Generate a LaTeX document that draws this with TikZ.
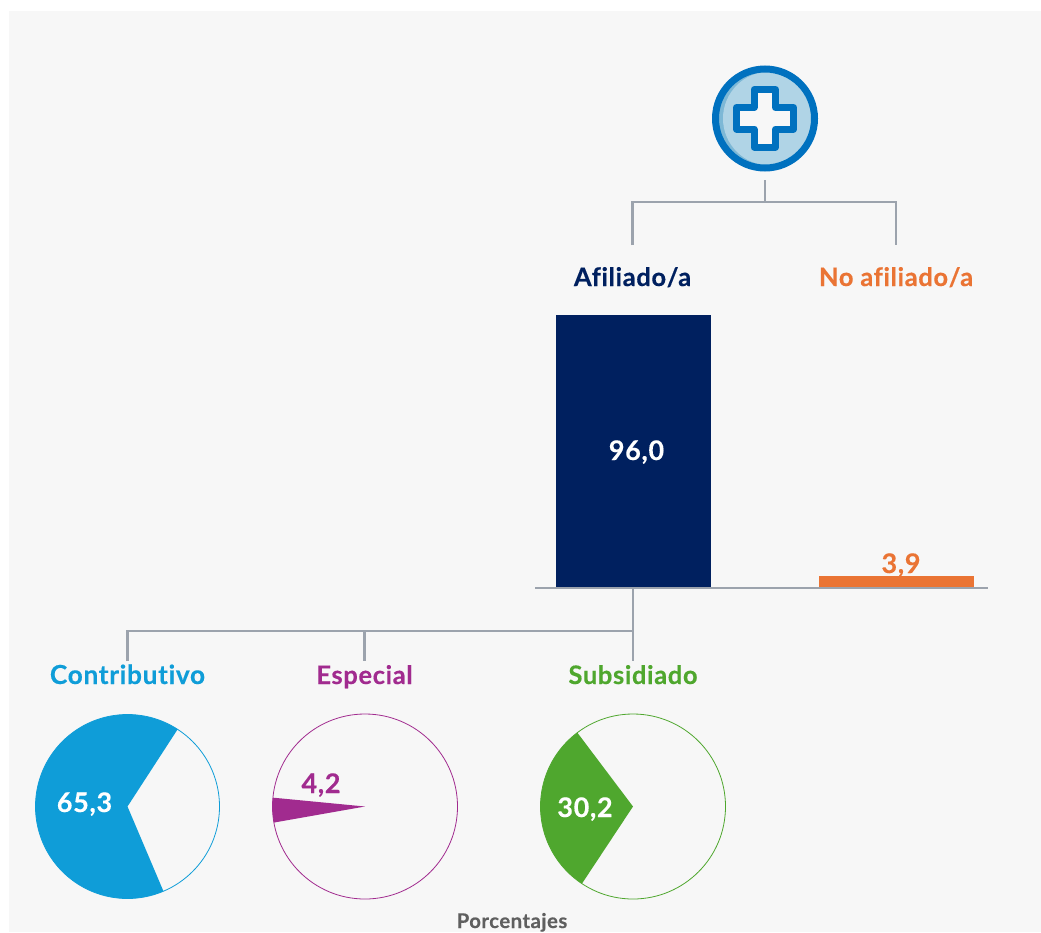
\documentclass[tikz,border=0pt]{standalone}
\usepackage{fontspec}
\setmainfont[Ligatures=NoCommon,BoldFeatures={FakeBold=0.35,LetterSpace=2.5}]{Lato}
\definecolor{bgc}{HTML}{F7F7F7}
\definecolor{linec}{HTML}{9CA3AD}
\definecolor{navyc}{HTML}{00205F}
\definecolor{orangec}{HTML}{EA7434}
\definecolor{bluec}{HTML}{0F9DD8}
\definecolor{purplec}{HTML}{A12B8F}
\definecolor{greenc}{HTML}{4FA72E}
\definecolor{iconc}{HTML}{0071BF}
\definecolor{iconl}{HTML}{B0D4E6}
\definecolor{icond}{HTML}{7DB8D6}
\definecolor{greyt}{HTML}{5F5F5F}
\tikzset{
  conn/.style={draw=linec,line width=2.2pt},
  lab/.style={font=\fontsize{25.5}{28}\selectfont\bfseries,inner sep=0pt,anchor=base},
  val/.style={font=\fontsize{27}{30}\selectfont\bfseries,inner sep=0pt,anchor=base,text=white},
}
\begin{document}
\begin{tikzpicture}[x=1pt,y=1pt,yscale=-1]
\useasboundingbox (0,0) rectangle (1041,932);
\fill[white] (0,0) rectangle (1041,932);
\fill[bgc] (9,11) rectangle (1041,932);
% icon
\fill[icond] (765,118.5) circle[radius=50pt];
\fill[iconl] (770,118.5) circle[radius=47pt];
\draw[white,line width=1.2pt] (770,118.5) ++(-70:46pt) arc[start angle=-70,end angle=-5,radius=46pt];
\node[circle,draw=iconc,line width=7pt,minimum size=99pt,inner sep=0pt] (icon) at (765,118.5) {};
\draw[iconc,fill=bgc,line width=7pt,line join=round]
  (754,89.5) -- (775.5,89.5) -- (775.5,107.5) -- (793.5,107.5) -- (793.5,129) -- (775.5,129) -- (775.5,147) -- (754,147) -- (754,129) -- (736.5,129) -- (736.5,107.5) -- (754,107.5) -- cycle;
% bars
\fill[navyc] (556,315) rectangle (711,587);
\fill[orangec] (819,576) rectangle (974,587);
\node[val] (v96) at (636.5,460) {96,0};
\node[lab,text=orangec,font=\fontsize{27}{30}\selectfont\bfseries] (v39) at (901,573) {3,9};
% labels
\node[lab,text=navyc] (afil) at (632.5,286) {Afiliado/a};
\node[lab,text=orangec] (noafil) at (896,286) {No afiliado/a};
\node[lab,text=bluec,font=\fontsize{26.3}{28}\selectfont\bfseries] (contr) at (127.5,684) {Contributivo};
\node[lab,text=purplec] (espec) at (364.5,684) {Especial};
\node[lab,text=greenc] (subs) at (633,684) {Subsidiado};
% connectors
\coordinate (iconb) at (765,180);
\coordinate (top) at (765,202);
\coordinate (tl) at (632.5,202);
\coordinate (tr) at (896,202);
\coordinate (tld) at (632.5,245);
\coordinate (trd) at (896,245);
\draw[conn] (iconb) -- (top);
\draw[conn] (tld) -- (tl) -- (tr) -- (trd);
\coordinate (axl) at (535,588);
\coordinate (axr) at (988,588);
\draw[conn] (axl) -- (axr);
\coordinate (b0) at (633,588);
\coordinate (b1) at (633,631);
\coordinate (b2) at (633,661);
\coordinate (b3) at (364.5,631);
\coordinate (b4) at (364.5,661);
\coordinate (b5) at (127.5,631);
\coordinate (b6) at (127.5,661);
\draw[conn] (b0) -- (b2);
\draw[conn] (b6) -- (b5) -- (b1);
\draw[conn] (b3) -- (b4);
% pies
\coordinate (p1) at (127.5,806.5);
\coordinate (p2) at (365,806.5);
\coordinate (p3) at (633,806.5);
\draw[bluec,line width=0.8pt] (p1) circle[radius=92pt];
\draw[purplec,line width=0.8pt] (p2) circle[radius=92.5pt];
\draw[greenc,line width=0.8pt] (p3) circle[radius=92.5pt];
\fill[bluec] (p1) -- ++(67:92pt) arc[start angle=67,end angle=303,radius=92pt] -- cycle;
\fill[purplec] (p2) -- ++(170:92.5pt) arc[start angle=170,end angle=185.5,radius=92.5pt] -- cycle;
\fill[greenc] (p3) -- ++(123.5:92.5pt) arc[start angle=123.5,end angle=233,radius=92.5pt] -- cycle;
\node[val] (v65) at (84.5,812) {65,3};
\node[lab,text=purplec,font=\fontsize{27}{30}\selectfont\bfseries] (v42) at (321,793) {4,2};
\node[val] (v30) at (585,817) {30,2};
\node[inner sep=0pt,anchor=base,text=greyt,font=\fontsize{20.3}{22}\selectfont\bfseries] (pct) at (512,928) {Porcentajes};
\end{tikzpicture}
\end{document}
